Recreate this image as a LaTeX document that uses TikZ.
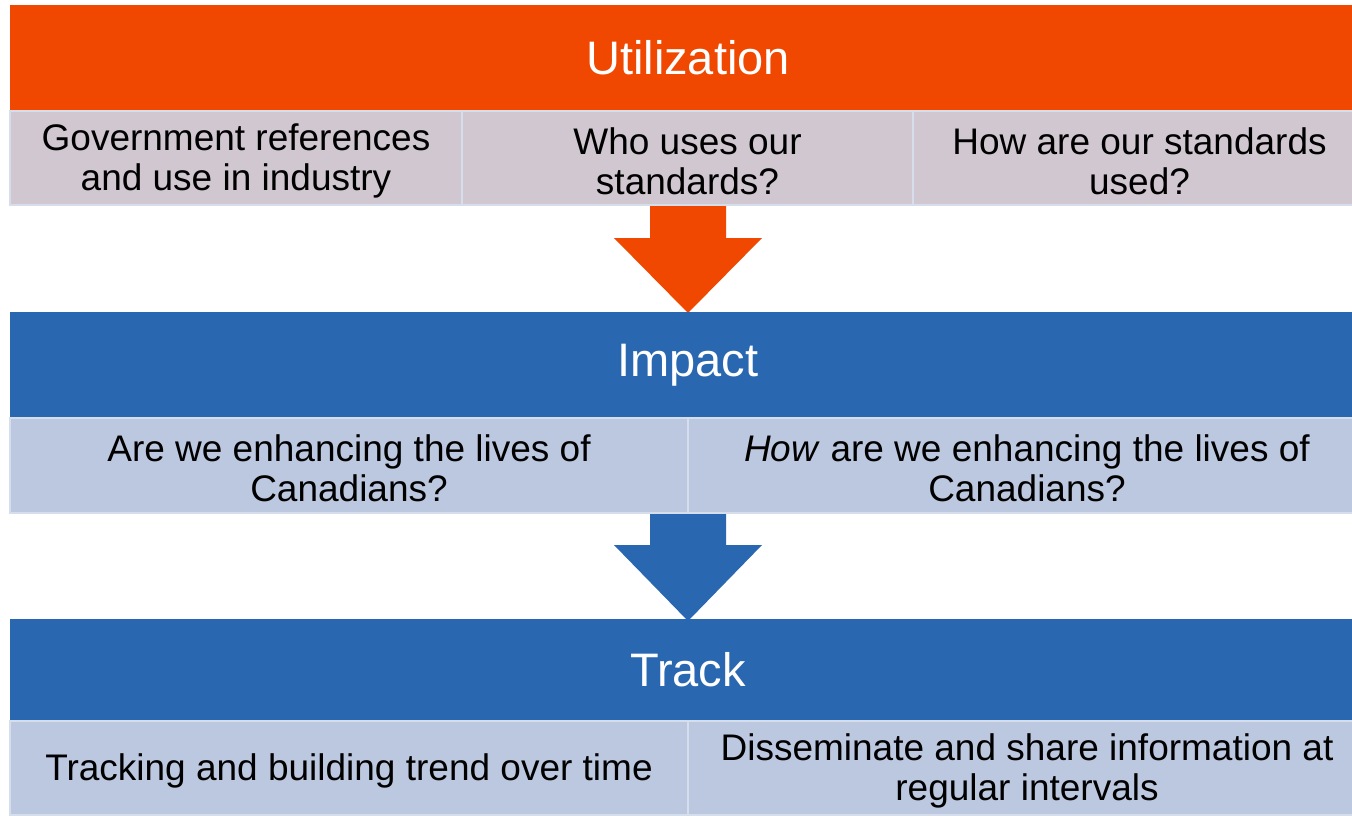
\documentclass[tikz,border=0pt]{standalone}
\usepackage{fontspec}
\setmainfont{Liberation Sans}
\usetikzlibrary{calc}
\definecolor{orangec}{RGB}{240,72,0}
\definecolor{bluec}{RGB}{41,103,177}
\definecolor{greyc}{RGB}{208,199,208}
\definecolor{lbluec}{RGB}{188,200,224}
\definecolor{borderc}{RGB}{214,222,236}
\newcommand\myup{\rule{0pt}{33pt}}
\begin{document}
\begin{tikzpicture}[x=1pt,y=-1pt,
  titlebar/.style={fill=#1, draw=none, inner sep=0pt, minimum width=1356, text=white,
    font=\fontsize{47}{52}\selectfont},
  cellbox/.style={fill=#1, draw=borderc, line width=1.5pt, inner sep=0pt, align=center,
    text=black, font=\fontsize{37}{40}\selectfont},
  blockarrow/.style={fill=#1, draw=none}]
\clip (0,0) rectangle (1352,815);
\fill[white] (0,0) rectangle (1352,815);
% arrows (drawn beneath the rows)
\coordinate (a1) at (688,205);
\coordinate (a2) at (688,513);
\fill[blockarrow=orangec] ($(a1)+(-38,0)$) -- ($(a1)+(38,0)$) -- ($(a1)+(38,33)$) -- ($(a1)+(74,33)$)
  -- ($(a1)+(0,108)$) -- ($(a1)+(-74,33)$) -- ($(a1)+(-38,33)$) -- cycle;
\fill[blockarrow=bluec] ($(a2)+(-38,0)$) -- ($(a2)+(38,0)$) -- ($(a2)+(38,32)$) -- ($(a2)+(74,32)$)
  -- ($(a2)+(0,108)$) -- ($(a2)+(-74,32)$) -- ($(a2)+(-38,32)$) -- cycle;
% Utilization
\node[titlebar=orangec, minimum height=106] (util) at (688,58) {Utilization};
\node[cellbox=greyc, minimum width=452, minimum height=94] (u1) at (236,158)
  {\myup Government references\\and use in industry};
\node[cellbox=greyc, minimum width=451, minimum height=94] (u2) at (687.5,158)
  {\myup Who uses our\\standards?};
\node[cellbox=greyc, minimum width=453, minimum height=94] (u3) at (1139.5,158)
  {\myup How are our standards\\used?};
% Impact
\node[titlebar=bluec, minimum height=106] (imp) at (688,365) {Impact};
\node[cellbox=lbluec, minimum width=678, minimum height=95] (i1) at (349,465.5)
  {\myup Are we enhancing the lives of\\Canadians?};
\node[cellbox=lbluec, minimum width=678, minimum height=95] (i2) at (1027,465.5)
  {\myup\textit{How} are we enhancing the lives of\\Canadians?};
% Track
\node[titlebar=bluec, minimum height=102] (trk) at (688,670) {Track};
\node[cellbox=lbluec, minimum width=678, minimum height=94] (t1) at (349,768)
  {\myup Tracking and building trend over time};
\node[cellbox=lbluec, minimum width=678, minimum height=94] (t2) at (1027,768)
  {\myup Disseminate and share information at\\regular intervals};
\end{tikzpicture}
\end{document}
